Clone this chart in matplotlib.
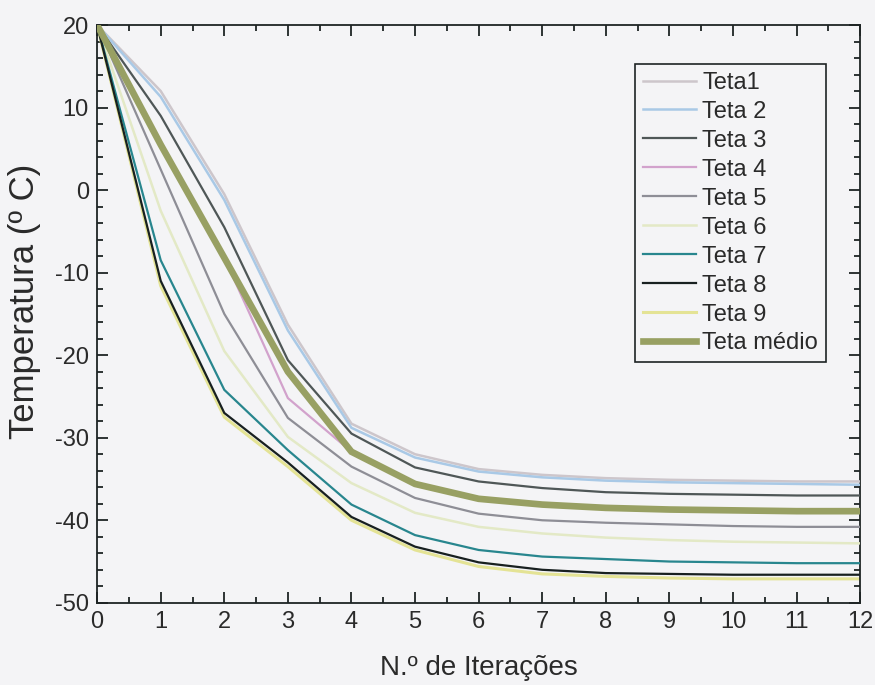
import matplotlib
matplotlib.use("Agg")
import matplotlib.pyplot as plt
from matplotlib.ticker import MultipleLocator
from matplotlib import font_manager

plt.rcParams['font.family'] = ['Liberation Sans', 'DejaVu Sans']
plt.rcParams['axes.unicode_minus'] = False

installed = {f.name for f in font_manager.fontManager.ttflist}
narrow = 'Liberation Sans Narrow' if 'Liberation Sans Narrow' in installed else 'Liberation Sans'

iteracoes = list(range(13))

teta1 = [20, 12.0, -0.5, -16.3, -28.3, -32.0, -33.8, -34.5, -34.9, -35.1, -35.2, -35.3, -35.3]
teta2 = [20, 11.3, -1.2, -17.0, -28.8, -32.4, -34.1, -34.8, -35.2, -35.4, -35.5, -35.6, -35.7]
teta3 = [20, 9.0, -4.5, -20.6, -29.5, -33.6, -35.3, -36.1, -36.6, -36.8, -36.9, -37.0, -37.0]
teta4 = [20, 5.5, -8.2, -25.2, -31.7, -35.6, -37.4, -38.1, -38.5, -38.7, -38.8, -38.9, -38.9]
teta5 = [20, 2.5, -15.0, -27.6, -33.5, -37.3, -39.2, -40.0, -40.3, -40.5, -40.7, -40.8, -40.8]
teta6 = [20, -2.5, -19.5, -29.9, -35.5, -39.1, -40.8, -41.6, -42.1, -42.4, -42.6, -42.7, -42.8]
teta7 = [20, -8.5, -24.2, -31.5, -38.1, -41.8, -43.6, -44.4, -44.7, -45.0, -45.1, -45.2, -45.2]
teta8 = [20, -11.0, -27.0, -33.0, -39.6, -43.2, -45.1, -46.0, -46.4, -46.5, -46.6, -46.6, -46.6]
teta9 = [20, -11.6, -27.5, -33.5, -40.0, -43.6, -45.6, -46.5, -46.8, -47.0, -47.1, -47.1, -47.1]
teta_medio = [20, 5.5, -8.2, -22.0, -31.7, -35.6, -37.4, -38.1, -38.5, -38.7, -38.8, -38.9, -38.9]

series = [
    ("Teta1", teta1, "#cdc6cb", 1.8, 3),
    ("Teta 2", teta2, "#a9c9e6", 1.8, 3),
    ("Teta 3", teta3, "#4f5757", 1.6, 3),
    ("Teta 4", teta4, "#d2a2cc", 1.6, 3),
    ("Teta 5", teta5, "#8e8e96", 1.6, 3),
    ("Teta 6", teta6, "#e3e9c6", 1.8, 3),
    ("Teta 7", teta7, "#28868e", 1.6, 3),
    ("Teta 8", teta8, "#182020", 1.6, 3),
    ("Teta 9", teta9, "#e4e395", 2.2, 2.5),
    ("Teta médio", teta_medio, "#98a063", 4.8, 4),
]

bg = "#f4f4f6"
ink = '#2a2a2a'
fig = plt.figure(figsize=(8.75, 6.85), dpi=100, facecolor=bg)
ax = fig.add_axes([0.111, 0.12, 0.872, 0.8435], facecolor=bg)

for label, vals, color, lw, z in series:
    ax.plot(iteracoes, vals, color=color, lw=lw, label=label, zorder=z,
            solid_joinstyle='miter')

ax.set_xlim(0, 12)
ax.set_ylim(-50, 20)
ax.xaxis.set_major_locator(MultipleLocator(1))
ax.xaxis.set_minor_locator(MultipleLocator(0.5))
ax.yaxis.set_major_locator(MultipleLocator(10))
ax.yaxis.set_minor_locator(MultipleLocator(2))

ax.tick_params(which='both', direction='in', top=True, right=True,
               color='#1e2424', width=1.3)
ax.tick_params(which='major', length=8, pad=6, labelcolor=ink)
ax.tick_params(which='minor', length=4)
for lab in ax.get_xticklabels() + ax.get_yticklabels():
    lab.set_fontfamily([narrow, 'DejaVu Sans'])
    lab.set_fontsize(17)
for s in ax.spines.values():
    s.set_color('#1e2424')
    s.set_linewidth(1.3)

ax.set_xlabel("N.º de Iterações", fontsize=20, color=ink, labelpad=16,
              family=[narrow, 'DejaVu Sans'])
ax.set_ylabel("Temperatura (º C)", fontsize=25, color=ink)
ax.yaxis.set_label_coords(-0.074, 0.521)

leg = ax.legend(loc='upper right', bbox_to_anchor=(0.955, 0.9325),
                prop={'family': ['Liberation Sans', 'DejaVu Sans'], 'size': 17},
                frameon=True, fancybox=False,
                edgecolor='#1e2424', facecolor=bg, framealpha=1,
                handlelength=2.25, handletextpad=0.25, labelspacing=0.295,
                borderpad=0.33, borderaxespad=0)
leg.get_frame().set_linewidth(1.2)
for t in leg.get_texts():
    t.set_color(ink)

fig.savefig("out.png", dpi=100, facecolor=bg)
